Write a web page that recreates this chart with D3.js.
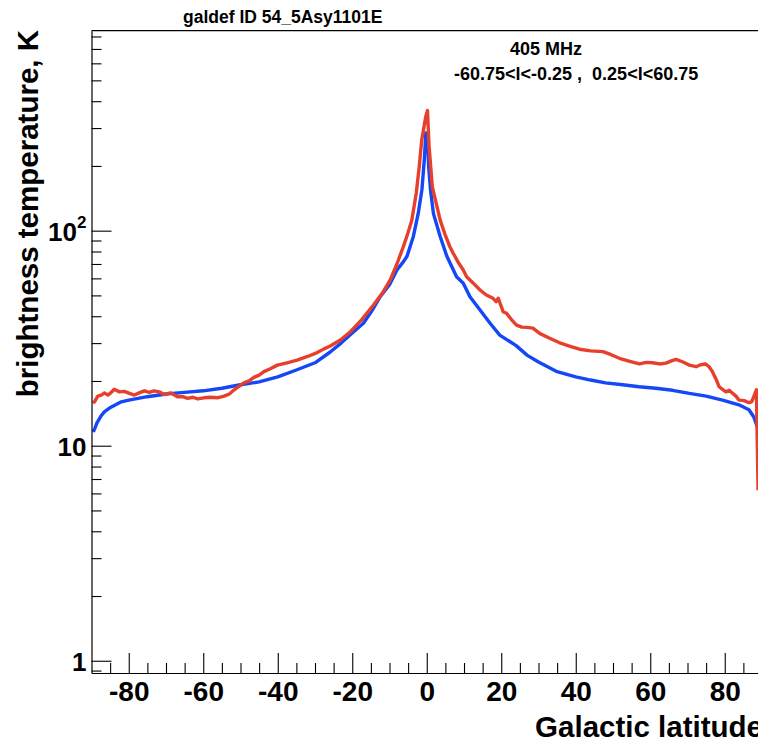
<!DOCTYPE html>
<html>
<head>
<meta charset="utf-8">
<script src="https://cdn.jsdelivr.net/npm/d3@7/dist/d3.min.js"></script>
<style>
  html, body { margin: 0; padding: 0; background: #fff; }
  svg { display: block; }
  text { font-family: "Liberation Sans", Arial, Helvetica, sans-serif; font-weight: bold; fill: #000; }
</style>
</head>
<body>
<svg id="chart" width="758" height="741"></svg>
<script>
// ---- data ----
const bBlue = [-89.6,-89.3,-88.5,-87.5,-86.5,-84.8,-82,-80,-75,-70,-65,-60,-55,-50,-45,-40,-35,-30,-26,-23,-20,-17,-14.5,-12.5,-10,-8,-6.2,-5.3,-3.6,-2.3,-1.3,-0.6,-0.25,0.25,0.5,1.0,1.8,3.6,5.4,8,9.8,11.6,14.3,17,19.6,24,27,30,35,40,44,48,52.6,57,61.5,66,70.5,75,79.4,83.8,86.5,87.8,88.7,89.6];
const tBlue = [11.6,11.8,12.8,13.7,14.4,15.1,16.0,16.3,16.9,17.4,17.7,18.0,18.5,19.2,19.8,20.9,22.5,24.3,27.2,30.0,33.4,37.1,43,49.3,56,65.6,72,76,94,120,155,220,285,278,200,155,120,94,76,61,57,49.3,42.8,37.1,32.7,29.2,26.3,24.5,22.1,20.9,20.2,19.6,19.2,18.8,18.5,18.1,17.5,17.0,16.3,15.5,14.7,13.6,12.3,11.0];

const bRed = [-89.6,-89.2,-88.3,-87.4,-86.5,-85.6,-84.7,-83.9,-82.5,-81.2,-79.8,-78.5,-77.2,-75.8,-74.5,-73.2,-71.8,-70.5,-68.7,-66.9,-65.5,-64.2,-62.8,-61.5,-59.8,-58,-56.2,-54.4,-53,-51.7,-50.4,-49.1,-47.7,-46.4,-45,-43.7,-42,-40.1,-37.5,-34.8,-32,-29.4,-27.6,-25.9,-23.2,-20.5,-17.5,-14.3,-12,-9.8,-8,-6.3,-5,-4.0,-2.8,-2.0,-1.35,-0.25,0.2,0.6,1.5,2.5,3.6,5,6.2,7.1,8.5,9.8,10.7,12.5,14.3,16,17.8,18.6,19.2,20.5,21.4,22.8,24.1,25.5,26.8,28.5,30.3,33,35.7,38.5,41,44,47.3,49.5,51.7,54.5,57.1,59,60.6,62.5,64.2,65.7,66.9,68.8,70.5,72.3,73.5,74.9,75.8,76.7,77.6,78.5,79.4,80.3,81.2,82,83,83.8,85.2,86.5,87.2,87.8,88.5,88.95];
const tRed = [15.8,16.0,17.0,17.2,17.6,17.2,17.7,18.3,17.8,17.9,17.5,17.2,17.6,18.0,17.7,18.0,17.8,17.3,17.6,16.9,16.9,16.6,16.8,16.5,16.7,16.8,16.7,17.0,17.4,18.2,18.9,19.6,20.0,20.8,21.3,22.1,22.8,23.7,24.3,25.0,26.0,27.1,28.2,29.1,31.0,33.9,38.5,45.1,51,59.0,70,84.2,98,112,150,200,264,340,362,250,160,135,112,95,84.2,78.5,71,65.6,61.1,57,53.0,50.2,48.5,46.7,48.5,42.0,41.3,38.5,36.4,35.6,35.5,35.2,33.3,31.6,30.1,29.0,28.1,27.6,27.4,26.5,25.5,24.7,24.0,24.4,24.3,24.0,24.2,24.8,25.2,24.5,23.7,23.3,23.8,24.0,23.3,22.1,20.5,18.8,18.3,17.8,18.1,17.6,17.0,16.3,16.2,15.85,16.0,16.9,18.2,6.2];

const xMajor = [-80,-60,-40,-20,0,20,40,60,80];
const xMinor = [-85,-75,-70,-65,-55,-50,-45,-35,-30,-25,-15,-10,-5,5,10,15,25,30,35,45,50,55,65,70,75,85];
const yMajor = [1,10,100];
const yMinor = [0.9,2,3,4,5,6,7,8,9,20,30,40,50,60,70,80,90,200,300,400,500,600,700,800];

const titleText = "galdef ID 54_5Asy1101E";
const freqText = "405 MHz";
const rangeText = "-60.75<l<-0.25 ,  0.25<l<60.75";
const xTitle = "Galactic latitude";
const yTitle = "brightness temperature, K";

// ---- layout ----
const L = 91.5, R = 762, T = 30.7, B = 673;
const svg = d3.select("#chart");

const x = d3.scaleLinear().domain([-90, 90]).range([L, R]);
const y = d3.scaleLog().domain([0.877, 851]).range([B, T]);

svg.append("defs").append("clipPath").attr("id", "clip")
  .append("rect").attr("x", L).attr("y", T).attr("width", R - L).attr("height", B - T);

// curves
const line = d3.line().x(d => x(d[0])).y(d => y(d[1]));
const blue = bBlue.map((b, i) => [b, tBlue[i]]);
const red = bRed.map((b, i) => [b, tRed[i]]);
const g = svg.append("g").attr("clip-path", "url(#clip)");
g.append("path").datum(blue).attr("d", line)
  .attr("fill", "none").attr("stroke", "#1447f5").attr("stroke-width", 3.4).attr("stroke-linejoin", "round");
g.append("path").datum(red).attr("d", line)
  .attr("fill", "none").attr("stroke", "#e6402c").attr("stroke-width", 3.4).attr("stroke-linejoin", "round");

// axes
const xAx = svg.append("g").attr("transform", `translate(0,${B})`)
  .call(d3.axisBottom(x).tickValues(xMajor).tickSize(-20).tickSizeOuter(0).tickPadding(8).tickFormat(d3.format("d")));
svg.append("g").attr("transform", `translate(0,${B})`)
  .call(d3.axisBottom(x).tickValues(xMinor).tickSize(-10).tickSizeOuter(0).tickFormat(""))
  .select(".domain").remove();
xAx.selectAll("text").style("font-size", "28px").attr("font-family", null);
xAx.selectAll("text").text(d => d < 0 ? "-" + Math.abs(d) : String(d));

const yAx = svg.append("g").attr("transform", `translate(${L},0)`)
  .call(d3.axisLeft(y).tickValues(yMajor).tickSize(-20).tickSizeOuter(0).tickPadding(5).tickFormat(d => String(d)));
svg.append("g").attr("transform", `translate(${L},0)`)
  .call(d3.axisLeft(y).tickValues(yMinor).tickSize(-10).tickSizeOuter(0).tickFormat(""))
  .select(".domain").remove();
yAx.selectAll("text").style("font-size", "26px").attr("font-family", null).attr("dy", "0.36em");
yAx.selectAll("text").filter(d => d === 100).each(function() {
  const t = d3.select(this);
  t.text("10");
  t.append("tspan").text("2").style("font-size", "17px").attr("dy", "-0.75em");
});

svg.selectAll(".domain").attr("stroke", "#000").attr("stroke-width", 1.2);
svg.selectAll(".tick line").attr("stroke", "#000").attr("stroke-width", 1.1);

// top frame line
svg.append("line").attr("x1", L).attr("x2", R).attr("y1", T).attr("y2", T)
  .attr("stroke", "#000").attr("stroke-width", 1.2);

// texts
svg.append("text").attr("x", 183).attr("y", 23).style("font-size", "17.5px").text(titleText);
svg.append("text").attr("x", 510).attr("y", 55).style("font-size", "18px").text(freqText);
svg.append("text").attr("x", 454).attr("y", 80).style("font-size", "18px")
  .attr("xml:space", "preserve").style("white-space", "pre").text(rangeText);

svg.append("text").attr("x", 763).attr("y", 737).attr("text-anchor", "end")
  .style("font-size", "29.5px").text(xTitle);
svg.append("text").attr("transform", "translate(38,30) rotate(-90)").attr("text-anchor", "end")
  .style("font-size", "29.5px").text(yTitle);
</script>
</body>
</html>
